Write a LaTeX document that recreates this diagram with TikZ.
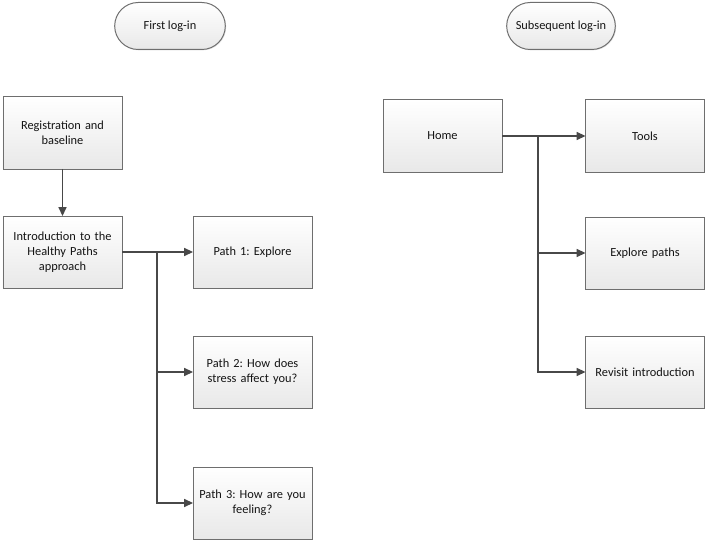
\documentclass[tikz,border=0pt]{standalone}
\usepackage{fontspec}
\setmainfont{Carlito}
\usepackage{tikz}
\usetikzlibrary{positioning}
\usetikzlibrary{arrows.meta}
\usetikzlibrary{shapes.misc}
\usetikzlibrary{shadows}
\definecolor{HPLine}{RGB}{72,72,72}
\definecolor{HPFrame}{RGB}{110,110,110}
\definecolor{HPInk}{RGB}{20,20,20}
\frenchspacing

\begin{document}
\begin{tikzpicture}[
x=1cm,
y=1cm,
every node/.style={font=\fontsize{8.8}{10.6}\selectfont,text=HPInk,outer sep=0pt},
stepbox/.style={draw=HPFrame,line width=0.7pt,top color=white,bottom color=black!9,minimum width=2.975cm,minimum height=1.8cm,text width=2.8cm,align=center,inner sep=2pt,drop shadow={shadow xshift=0.6pt,shadow yshift=-0.6pt,fill=black!25}},
terminal/.style={draw=HPFrame,line width=0.7pt,rounded rectangle,top color=white,bottom color=black!9,minimum height=1.175cm,align=center,drop shadow={shadow xshift=0.6pt,shadow yshift=-0.6pt,fill=black!25}},
flow/.style={-{Triangle[length=2.2mm,width=2.0mm]},line width=0.8pt,draw=HPLine},
trunk/.style={line width=1.3pt,draw=HPLine}
]

\path[use as bounding box] (0,0) rectangle (17.75,13.6);

% headings
\node[terminal,minimum width=3.0cm] (first) at (4.25,12.95) {First log-in};
\node[terminal,minimum width=2.95cm] (subseq) at (14.025,12.95) {Subsequent log-in};

% first log-in
\node[stepbox] (reg) at (1.5625,10.275) {Registration and\\baseline};
\node[stepbox] (intro) at (1.5625,7.3) {Introduction to the\\Healthy Paths\\approach};
\node[stepbox] (path1) at (6.3125,7.3) {Path 1: Explore};
\node[stepbox] (path2) at (6.3125,4.3) {Path 2: How does\\stress affect you?};
\node[stepbox] (path3) at (6.3125,1.025) {Path 3: How are you\\feeling?};

% subsequent log-in
\node[stepbox] (home) at (11.0625,10.2) {Home};
\node[stepbox] (tools) at (16.125,10.2) {Tools};
\node[stepbox] (explore) at (16.125,7.275) {Explore paths};
\node[stepbox] (revisit) at (16.125,4.3) {Revisit introduction};

\coordinate (lsplit) at (3.925,7.3);
\coordinate (rsplit) at (13.45,10.2);

\draw[flow] (reg) -- (intro);
\draw[trunk] (intro) -- (lsplit);
\draw[flow] (lsplit) -- (path1);
\draw[flow] (lsplit) |- (path2);
\draw[flow] (lsplit) |- (path3);

\draw[trunk] (home) -- (rsplit);
\draw[flow] (rsplit) -- (tools);
\draw[flow] (rsplit) |- (explore);
\draw[flow] (rsplit) |- (revisit);

\end{tikzpicture}
\end{document}
